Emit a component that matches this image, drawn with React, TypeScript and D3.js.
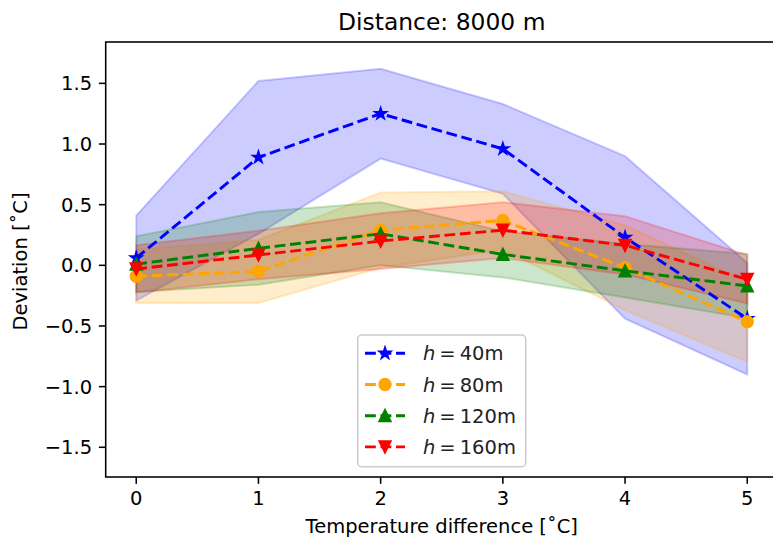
import React, { useEffect, useRef } from "react";
import * as d3 from "d3";

// x positions (temperature difference)
const tempDiff = [0, 1, 2, 3, 4, 5];

// mean deviation and spread for each height
const mean40 = [0.06, 0.89, 1.25, 0.96, 0.23, -0.44];
const std40 = [0.35, 0.63, 0.37, 0.37, 0.67, 0.46];
const mean80 = [-0.09, -0.05, 0.29, 0.37, -0.02, -0.465];
const std80 = [0.22, 0.26, 0.31, 0.24, 0.35, 0.33];
const mean120 = [0.01, 0.14, 0.26, 0.09, -0.045, -0.17];
const std120 = [0.23, 0.3, 0.26, 0.19, 0.22, 0.265];
const mean160 = [-0.03, 0.085, 0.2, 0.29, 0.165, -0.115];
const std160 = [0.195, 0.2, 0.23, 0.23, 0.24, 0.2];

const heights = ["40", "80", "120", "160"];
const seriesColors = ["#0000ff", "#ffa500", "#008000", "#ff0000"];
const seriesMarkers = ["star", "circle", "up", "down"];

const xTicks = [0, 1, 2, 3, 4, 5];
const yTicks = [-1.5, -1.0, -0.5, 0.0, 0.5, 1.0, 1.5];

const W = 773;
const H = 542;
const PT = 1.95; // px per point

const markerPath = (kind: string, r: number) => {
  if (kind === "circle") {
    return d3.arc()({ innerRadius: 0, outerRadius: r, startAngle: 0, endAngle: 2 * Math.PI }) as string;
  }
  if (kind === "up") return `M0,${-r}L${-r},${r}L${r},${r}Z`;
  if (kind === "down") return `M0,${r}L${-r},${-r}L${r},${-r}Z`;
  // five pointed star
  const pts: string[] = [];
  for (let i = 0; i < 10; i++) {
    const rr = i % 2 === 0 ? r : r * 0.381966;
    const a = (Math.PI / 5) * i;
    pts.push(`${rr * Math.sin(a)},${-rr * Math.cos(a)}`);
  }
  return "M" + pts.join("L") + "Z";
};

export default function App() {
  const svgRef = useRef<SVGSVGElement>(null);

  useEffect(() => {
    const svg = d3.select(svgRef.current);
    svg.selectAll("*").remove();

    const left = 105.7, right = 777.8, top = 42, bottom = 477;
    const x = d3.scaleLinear().domain([-0.25, 5.25]).range([left, right]);
    const y = d3.scaleLinear().domain([-1.745, 1.841]).range([bottom, top]);

    const series = [
      { mean: mean40, std: std40 },
      { mean: mean80, std: std80 },
      { mean: mean120, std: std120 },
      { mean: mean160, std: std160 },
    ].map((s, i) => ({
      ...s,
      label: heights[i],
      color: seriesColors[i],
      marker: seriesMarkers[i],
      pts: tempDiff.map((t, j) => ({ t, m: s.mean[j], sd: s.std[j] })),
    }));

    svg.append("defs").append("clipPath").attr("id", "plotclip")
      .append("rect").attr("x", left).attr("y", top).attr("width", right - left).attr("height", bottom - top);

    const plot = svg.append("g").attr("clip-path", "url(#plotclip)");

    const area = d3.area<any>()
      .x((d) => x(d.t))
      .y0((d) => y(d.m - d.sd))
      .y1((d) => y(d.m + d.sd));

    plot.selectAll(".band")
      .data(series)
      .join("path")
      .attr("class", "band")
      .attr("d", (s) => area(s.pts))
      .attr("fill", (s) => s.color)
      .attr("fill-opacity", 0.2)
      .attr("stroke", (s) => s.color)
      .attr("stroke-opacity", 0.2)
      .attr("stroke-width", PT);

    const line = d3.line<any>().x((d) => x(d.t)).y((d) => y(d.m));
    const dash = `${3.7 * 1.5 * PT},${1.6 * 1.5 * PT}`;

    series.forEach((s) => {
      plot.append("path")
        .attr("d", line(s.pts))
        .attr("fill", "none")
        .attr("stroke", s.color)
        .attr("stroke-width", 1.5 * PT)
        .attr("stroke-dasharray", dash);
      plot.selectAll(null)
        .data(s.pts)
        .join("path")
        .attr("transform", (d) => `translate(${x(d.t)},${y(d.m)})`)
        .attr("d", markerPath(s.marker, 2.9 * PT))
        .attr("fill", s.color)
        .attr("stroke", s.color)
        .attr("stroke-width", PT);
    });

    // spines
    svg.append("rect")
      .attr("x", left).attr("y", top).attr("width", right - left).attr("height", bottom - top)
      .attr("fill", "none").attr("stroke", "black").attr("stroke-width", 0.8 * PT);

    const font = "DejaVu Sans";
    const tickLen = 3.5 * PT;
    const fs = 10 * PT;

    const xg = svg.append("g");
    xg.selectAll("line").data(xTicks).join("line")
      .attr("x1", (d) => x(d)).attr("x2", (d) => x(d))
      .attr("y1", bottom).attr("y2", bottom + tickLen)
      .attr("stroke", "black").attr("stroke-width", 0.8 * PT);
    xg.selectAll("text").data(xTicks).join("text")
      .attr("x", (d) => x(d)).attr("y", bottom + 2 * tickLen + 14.5)
      .attr("text-anchor", "middle")
      .attr("font-family", font).attr("font-size", fs)
      .text((d) => String(d));

    const fmt = (d: number) => d.toFixed(1).replace("-", "\u2212");
    const yg = svg.append("g");
    yg.selectAll("line").data(yTicks).join("line")
      .attr("x1", left - tickLen).attr("x2", left)
      .attr("y1", (d) => y(d)).attr("y2", (d) => y(d))
      .attr("stroke", "black").attr("stroke-width", 0.8 * PT);
    yg.selectAll("text").data(yTicks).join("text")
      .attr("x", left - 2 * tickLen).attr("y", (d) => y(d) + 7)
      .attr("text-anchor", "end")
      .attr("font-family", font).attr("font-size", fs)
      .text((d) => fmt(d));

    svg.append("text")
      .attr("x", (left + right) / 2).attr("y", 30)
      .attr("text-anchor", "middle")
      .attr("font-family", font).attr("font-size", 12 * PT)
      .text("Distance: 8000 m");

    svg.append("text")
      .attr("x", (left + right) / 2).attr("y", 533)
      .attr("text-anchor", "middle")
      .attr("font-family", font).attr("font-size", fs)
      .text("Temperature difference [\u02DAC]");

    svg.append("text")
      .attr("transform", `translate(27,${(top + bottom) / 2 + 2}) rotate(-90)`)
      .attr("text-anchor", "middle")
      .attr("font-family", font).attr("font-size", fs)
      .text("Deviation [\u02DAC]");

    // legend
    const lg = svg.append("g");
    lg.append("rect")
      .attr("x", 357.7).attr("y", 335).attr("width", 168).attr("height", 131.7)
      .attr("rx", 4).attr("fill", "white").attr("fill-opacity", 0.8)
      .attr("stroke", "#cccccc").attr("stroke-width", 1.5);
    series.forEach((s, i) => {
      const cy = 353.3 + i * 31.2;
      lg.append("line")
        .attr("x1", 365).attr("x2", 405).attr("y1", cy).attr("y2", cy)
        .attr("stroke", s.color).attr("stroke-width", 1.5 * PT)
        .attr("stroke-dasharray", dash);
      lg.append("path")
        .attr("transform", `translate(385,${cy})`)
        .attr("d", markerPath(s.marker, 2.9 * PT))
        .attr("fill", s.color).attr("stroke", s.color).attr("stroke-width", PT);
      const t = lg.append("text")
        .attr("x", 423).attr("y", cy + 7)
        .attr("font-family", font).attr("font-size", fs)
        .attr("fill", "#222");
      t.append("tspan").attr("font-style", "italic").text("h");
      t.append("tspan").attr("dx", 4).text("=");
      t.append("tspan").attr("dx", 4).text(`${s.label}m`);
    });
  }, []);

  return (
    <div style={{ position: "fixed", left: 0, top: 0, width: W, height: H, background: "white" }}>
      <svg ref={svgRef} width={W} height={H} />
    </div>
  );
}
